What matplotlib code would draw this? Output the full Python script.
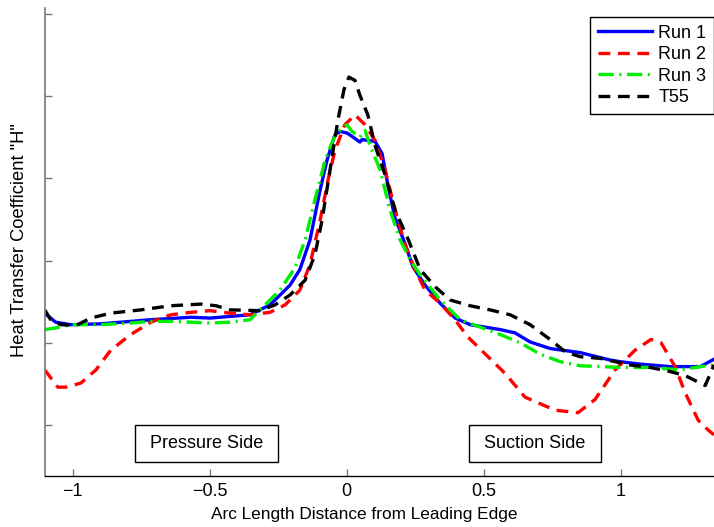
import matplotlib
matplotlib.use("Agg")
import matplotlib.pyplot as plt
import numpy as np

plt.rcParams['font.family'] = ['Liberation Sans', 'DejaVu Sans']
plt.rcParams['lines.scale_dashes'] = False

# Arc length positions and heat transfer coefficient for each run
run1_x = [-1.102, -1.062, -1.007, -0.897, -0.715, -0.569, -0.499, -0.353, -0.280, -0.207,
          -0.171, -0.134, -0.097, -0.072, -0.043, -0.025, 0.001, 0.019, 0.048, 0.056,
          0.078, 0.103, 0.129, 0.151, 0.176, 0.212, 0.242, 0.286, 0.341,
          0.396, 0.450, 0.505, 0.560, 0.614, 0.669, 0.742, 0.852, 0.961, 0.998,
          1.071, 1.180, 1.290, 1.340]
run1_y = [2.36, 2.25, 2.22, 2.23, 2.28, 2.31, 2.30, 2.34, 2.46, 2.70,
          2.89, 3.25, 3.86, 4.22, 4.53, 4.57, 4.55, 4.51, 4.44, 4.47,
          4.46, 4.45, 4.30, 3.90, 3.52, 3.21, 2.92, 2.70, 2.48,
          2.30, 2.22, 2.19, 2.16, 2.12, 2.01, 1.93, 1.88, 1.79, 1.77,
          1.74, 1.71, 1.71, 1.80]

run2_x = [-1.102, -1.054, -1.025, -0.970, -0.915, -0.861, -0.788, -0.715, -0.642, -0.569,
          -0.499, -0.426, -0.353, -0.280, -0.225, -0.171, -0.134, -0.097, -0.068, -0.043,
          -0.007, 0.030, 0.067, 0.103, 0.140, 0.177, 0.213, 0.249, 0.286, 0.341,
          0.395, 0.442, 0.577, 0.650, 0.760, 0.844, 0.906, 0.979, 1.052, 1.110,
          1.147, 1.198, 1.235, 1.282, 1.315, 1.340]
run2_y = [1.67, 1.46, 1.46, 1.51, 1.67, 1.91, 2.10, 2.25, 2.34, 2.37,
          2.39, 2.36, 2.34, 2.37, 2.46, 2.64, 2.95, 3.49, 3.98, 4.34,
          4.65, 4.77, 4.65, 4.46, 4.10, 3.61, 3.19, 2.89, 2.64, 2.48,
          2.28, 2.07, 1.63, 1.34, 1.18, 1.15, 1.31, 1.67, 1.91, 2.04,
          2.00, 1.71, 1.39, 1.06, 0.95, 0.88]

run3_x = [-1.102, -1.062, -1.007, -0.897, -0.788, -0.715, -0.642, -0.569, -0.499, -0.426,
          -0.353, -0.298, -0.244, -0.189, -0.152, -0.116, -0.079, -0.043, -0.017, 0.001,
          0.019, 0.048, 0.067, 0.085, 0.122, 0.158, 0.195, 0.231, 0.267, 0.341,
          0.414, 0.487, 0.560, 0.633, 0.706, 0.779, 0.852, 0.925, 0.998, 1.107,
          1.217, 1.290, 1.340]
run3_y = [2.16, 2.18, 2.22, 2.22, 2.24, 2.26, 2.26, 2.25, 2.24, 2.25,
          2.28, 2.46, 2.64, 2.91, 3.25, 3.74, 4.22, 4.52, 4.61, 4.65,
          4.57, 4.50, 4.58, 4.40, 4.10, 3.61, 3.25, 3.01, 2.83, 2.52,
          2.28, 2.19, 2.10, 2.00, 1.86, 1.77, 1.72, 1.71, 1.70, 1.70,
          1.67, 1.71, 1.73]

t55_x = [-1.102, -1.080, -1.043, -0.988, -0.934, -0.861, -0.751, -0.642, -0.532, -0.477,
         -0.426, -0.317, -0.262, -0.207, -0.152, -0.116, -0.090, -0.061, -0.032, -0.010,
         0.008, 0.030, 0.048, 0.077, 0.103, 0.140, 0.177, 0.225, 0.268, 0.323,
         0.377, 0.450, 0.523, 0.596, 0.669, 0.742, 0.797, 0.852, 0.925, 1.034,
         1.107, 1.180, 1.235, 1.308, 1.340]
t55_y = [2.40, 2.28, 2.22, 2.21, 2.30, 2.36, 2.40, 2.45, 2.47, 2.45,
         2.40, 2.39, 2.46, 2.58, 2.76, 3.07, 3.49, 4.10, 4.71, 5.08,
         5.23, 5.19, 5.01, 4.77, 4.40, 4.04, 3.61, 3.25, 2.89, 2.68,
         2.52, 2.45, 2.40, 2.34, 2.22, 2.04, 1.89, 1.83, 1.81, 1.73,
         1.70, 1.65, 1.60, 1.48, 1.73]

series_labels = ["Run 1", "Run 2", "Run 3", "T55"]
x_ticks = [-1, -0.5, 0, 0.5, 1]
x_tick_labels = ["\u22121", "\u22120.5", "0", "0.5", "1"]
y_ticks = [1, 2, 3, 4, 5, 6]
region_labels = ["Pressure Side", "Suction Side"]

FS = 13

fig = plt.figure(figsize=(7.14, 5.27), dpi=100)
ax = fig.add_axes([44.7 / 714, (527 - 476) / 527, 1 - 44.7 / 714, (476 - 8) / 527])

lw = 2.4
ax.plot(run1_x, run1_y, color='#0000ff', lw=lw, ls='-', label=series_labels[0])
ax.plot(run2_x, run2_y, color='#ff0000', lw=lw, dashes=(8.5, 5.5), label=series_labels[1])
ax.plot(run3_x, run3_y, color='#00ee00', lw=lw, dashes=(11, 4, 1.5, 4), label=series_labels[2])
ax.plot(t55_x, t55_y, color='black', lw=lw, dashes=(8.5, 5.5), label=series_labels[3])

ax.set_xlim(-1.102, 1.340)
ax.set_ylim(0.38, 6.07)
ax.set_xticks(x_ticks)
ax.set_xticklabels(x_tick_labels)
ax.set_yticks(y_ticks)
ax.set_yticklabels([])

for side in ('top', 'right'):
    ax.spines[side].set_visible(False)
ax.spines['left'].set_color('#777777')
ax.spines['left'].set_linewidth(1.2)
ax.spines['bottom'].set_color('black')
ax.spines['bottom'].set_linewidth(1.0)
ax.tick_params(direction='in', length=5, width=1.0, color='#777777', labelsize=FS, pad=5)

ax.set_xlabel("Arc Length Distance from Leading Edge", fontsize=12.4)
ax.xaxis.set_label_coords((364 - 44.7) / (714 - 44.7), -(514 - 476) / 468, transform=ax.transAxes)
ax.set_ylabel('Heat Transfer Coefficient "H"', fontsize=13.2)
ax.yaxis.set_label_coords(-(44.7 - 20) / (714 - 44.7), (476 - 240) / 468, transform=ax.transAxes)
ax.xaxis.label.set_va('center')
ax.yaxis.label.set_va('center')

box = dict(boxstyle='square,pad=0.55', facecolor='white', edgecolor='black', lw=1.0)
ax.text(-0.513, 0.77, " " + region_labels[0] + " ", fontsize=FS, ha='center', va='center', bbox=box)
ax.text(0.687, 0.78, " " + region_labels[1] + " ", fontsize=FS, ha='center', va='center', bbox=box)

leg = ax.legend(loc='upper right', bbox_to_anchor=(1.0, 1 - 9 / 468), fontsize=FS,
                frameon=True, fancybox=False, framealpha=1, edgecolor='black',
                handlelength=3.0, handletextpad=0.35, labelspacing=0.25,
                borderpad=0.42, borderaxespad=0.0)
leg.get_frame().set_linewidth(1.0)

fig.savefig("out.png", dpi=100)
